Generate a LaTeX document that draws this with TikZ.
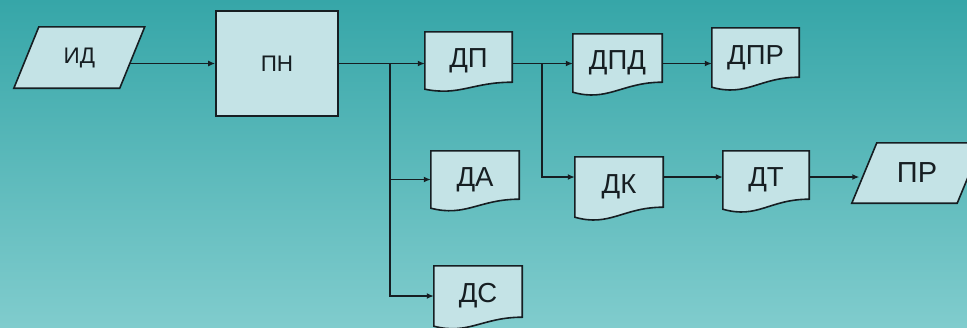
\documentclass[tikz,border=0pt]{standalone}
\usepackage{fontspec}
\setmainfont{Liberation Sans}
\usetikzlibrary{arrows.meta,backgrounds,calc}
\definecolor{bgtop}{RGB}{54,166,168}
\definecolor{bgbot}{RGB}{128,204,205}
\definecolor{boxfill}{RGB}{196,227,230}
\definecolor{ink}{RGB}{22,30,34}
\newcommand\docout[2]{%
  \path[outl] (#1.north west) -- (#1.north east) -- ([yshift=#2pt]#1.south east)
    .. controls ([xshift=-40pt,yshift=#2pt]#1.south east) and ([xshift=35pt,yshift=-#2pt]#1.south west) .. (#1.south west) -- cycle;}
\newcommand\parout[1]{%
  \path[outl] ([xshift=12.5pt]#1.north west) -- ([xshift=12.5pt]#1.north east) -- ([xshift=-12.5pt]#1.south east) -- ([xshift=-12.5pt]#1.south west) -- cycle;}
\begin{document}
\begin{tikzpicture}[x=1pt,y=-1pt,
  lab/.style={font=\fontsize{27.5}{27.5}\selectfont, text=ink},
  small/.style={font=\fontsize{22.5}{22.5}\selectfont, text=ink},
  doc/.style={rectangle, lab, inner sep=0pt},
  arr/.style={draw=ink, line width=1.5pt, -{Latex[length=7pt,width=6pt]}},
  outl/.style={draw=ink, line width=1.6pt, fill=boxfill}]
\useasboundingbox (0,0) rectangle (967,327);

\node[small, inner sep=0pt, minimum width=105.5pt, minimum height=61pt] (id) at (79.3,57.5) {\raisebox{-5pt}{ИД}};
\node[small, outl, inner sep=0pt, minimum width=122pt, minimum height=105pt] (pn) at (277,63.5) {\raisebox{-4pt}{ПН}};
\node[doc, minimum width=87pt, minimum height=57pt] (dp) at (468.5,60.5) {ДП};
\node[doc, minimum width=89pt, minimum height=58pt] (dpd) at (617.5,63) {ДПД};
\node[doc, minimum width=87pt, minimum height=59pt] (dpr) at (755.5,57.5) {\raisebox{4pt}{ДПР}};
\node[doc, minimum width=88pt, minimum height=57pt] (da) at (475,179.5) {ДА};
\node[doc, minimum width=88pt, minimum height=60pt] (ds) at (478,296) {ДС};
\node[doc, minimum width=88pt, minimum height=60pt] (dk) at (619,187) {\raisebox{2pt}{ДК}};
\node[doc, minimum width=86pt, minimum height=58pt] (dt) at (766,180) {\raisebox{3pt}{ДТ}};
\node[inner sep=0pt, font=\fontsize{29}{29}\selectfont, text=ink, minimum width=105pt, minimum height=60pt] (pr) at (917,173) {\raisebox{-2pt}{ПР}};

\coordinate (b1) at (390,63.5);
\coordinate (b2) at (542,63.5);
\coordinate (row) at ([yshift=10pt]dk.east);

\draw[arr] ([xshift=-3pt]id.east |- pn.west) -- (pn.west);
\draw[arr] (pn.east) -- (pn.east -| dp.west);
\draw[arr] (b1) |- (da.west);
\draw[arr] (b1) |- (ds.west);
\draw[arr] (dp.east |- pn.east) -- (dpd.west |- pn.east);
\draw[arr] (dpd.east |- pn.east) -- (dpr.west |- pn.east);
\draw[arr] (b2) |- (row -| dk.west);
\draw[arr] (row) -- (row -| dt.west);
\draw[arr] (row -| dt.east) -- ($(row -| pr.west)+(-5,0)$);

\begin{pgfonlayer}{background}
\shade[top color=bgtop, bottom color=bgbot] (0,0) rectangle (967,327);
\parout{id}
\parout{pr}
\docout{dp}{7}
\docout{dpd}{10}
\docout{dpr}{10}
\docout{da}{9}
\docout{ds}{9}
\docout{dk}{10}
\docout{dt}{10}
\end{pgfonlayer}
\end{tikzpicture}
\end{document}
